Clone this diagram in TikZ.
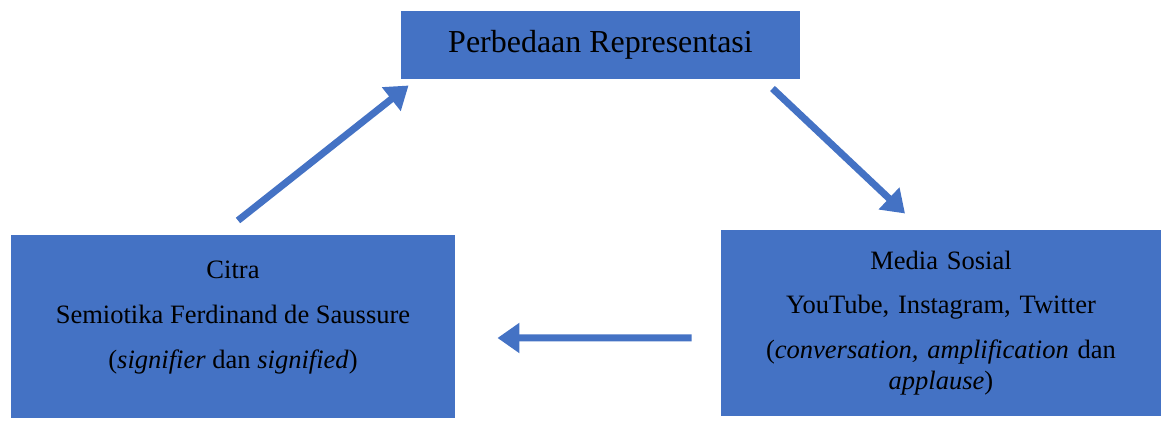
\documentclass[tikz,border=0pt]{standalone}
\usepackage{fontspec}
\setmainfont{Liberation Serif}
\usetikzlibrary{arrows.meta,positioning}
\definecolor{kotakbiru}{HTML}{4472C4}

\begin{document}
\begin{tikzpicture}[
  x=0.02cm, y=-0.02cm,
  kotak/.style={
    fill=kotakbiru,
    draw=white,
    line width=0.6pt,
    inner sep=0pt,
    align=center,
    font=\fontsize{15.1}{17.5}\selectfont
    },
  panah/.style={
    draw=kotakbiru,
    line width=0.14cm,
    -{Triangle[length=0.44cm,width=0.58cm]}
  }
]
\useasboundingbox (0,0) rectangle (1164,421);

\node [kotak, minimum width=8.02cm, minimum height=1.4cm,
       font=\fontsize{18.2}{21}\selectfont] (judul) at (600.5,45) {Perbedaan Representasi};
\node [kotak, minimum width=8.92cm, minimum height=3.7cm] (citra) at (233,326.5)
  {Citra\\[8pt] Semiotika Ferdinand de Saussure\\[8pt] (\textit{signifier} dan \textit{signified})\\[-4pt]};
\node [kotak, minimum width=8.84cm, minimum height=3.76cm, text width=8.2cm] (medsos) at (941,323)
  {Media Sosial\\[8pt] YouTube, Instagram, Twitter\\[8pt]
   (\textit{conversation, amplification} dan\\ \textit{applause})};

% panah antar kotak
\draw[panah] ([shift={(5,-13)}]citra.north) -- ([shift={(9,5)}]judul.south west);
\draw[panah] ([shift={(-29,8)}]judul.south east) -- ([shift={(-36,-15)}]medsos.north);
\draw[panah] ([shift={(-28,15)}]medsos.west) -- ([shift={(41,11.5)}]citra.east);
\end{tikzpicture}
\end{document}
